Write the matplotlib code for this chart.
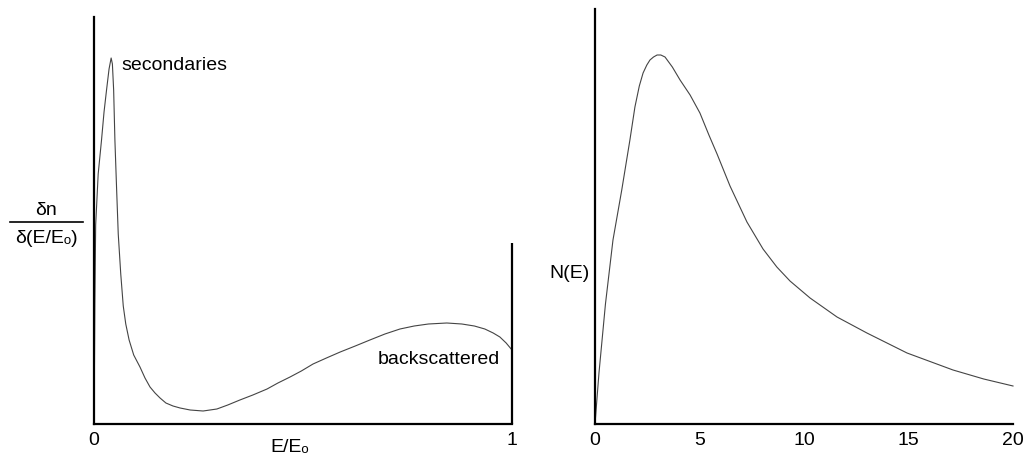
import matplotlib.pyplot as plt
from matplotlib.lines import Line2D

plt.rcParams["font.family"] = ["Liberation Sans", "DejaVu Sans"]
plt.rcParams["font.size"] = 14

# left panel: electron energy distribution vs E/E0
left_x = [0.0, 0.0007, 0.002, 0.004, 0.010, 0.018, 0.024, 0.030, 0.036, 0.041,
          0.044, 0.047, 0.050, 0.054, 0.058, 0.064, 0.070, 0.076, 0.084, 0.095,
          0.110, 0.122, 0.134, 0.146, 0.158, 0.172, 0.189, 0.206, 0.230, 0.261,
          0.294, 0.320, 0.349, 0.380, 0.414, 0.440, 0.469, 0.496, 0.524, 0.556,
          0.589, 0.625, 0.660, 0.696, 0.732, 0.766, 0.800, 0.844, 0.880, 0.910,
          0.935, 0.955, 0.971, 0.986, 1.0]
left_y = [0, 34, 120, 199, 250, 284, 312, 334, 355, 366,
          360, 334, 284, 236, 190, 150, 118, 100, 84, 69,
          57, 46, 37, 31, 26, 21, 18, 16, 14, 13,
          15, 19, 24, 29, 35, 41, 47, 53, 60, 66,
          72, 78, 84, 90, 95, 98, 100, 101, 100, 98,
          95, 91, 87, 81, 74]
left_ticks = [0, 1]
left_ytop = 407
edge_height = 181

# right panel: secondary electron distribution N(E)
right_x = [0.0, 0.19, 0.50, 0.86, 1.28, 1.67, 1.91, 2.12, 2.30, 2.48, 2.63, 2.80,
           2.97, 3.15, 3.35, 3.70, 4.07, 4.55, 5.02, 5.45, 5.84, 6.46, 7.27,
           8.04, 8.70, 9.33, 10.29, 11.58, 13.01, 14.93, 17.13, 18.60, 20.0]
right_y = [0, 51, 120, 184, 234, 284, 317, 338, 351, 359, 364, 367,
           369, 369, 367, 357, 344, 329, 311, 289, 270, 238, 202,
           175, 157, 143, 126, 107, 91, 71, 54, 45, 38]
right_ticks = [0, 5, 10, 15, 20]
right_ytop = 415

fig = plt.figure(figsize=(10.3, 4.61), dpi=100)
ax1 = fig.add_axes([94 / 1030, 37 / 461, 418 / 1030, 407 / 461])
ax2 = fig.add_axes([595 / 1030, 37 / 461, 418 / 1030, 415 / 461])

for ax in (ax1, ax2):
    for s in ("top", "right"):
        ax.spines[s].set_visible(False)
    for s in ("left", "bottom"):
        ax.spines[s].set_linewidth(1.6)
        ax.spines[s].set_color("black")
    ax.set_yticks([])
    ax.tick_params(axis="x", length=0, pad=6, labelsize=14)

ax1.plot(left_x, left_y, color="#444444", lw=0.8, clip_on=False)
ax1.vlines(1.0, 0, edge_height, color="black", lw=1.6, clip_on=False)
ax1.set_xlim(0, 1)
ax1.set_ylim(0, left_ytop)
ax1.set_xticks(left_ticks)
ax1.text(0.0646, 359, "secondaries", ha="left", va="center", fontsize=14)
ax1.text(0.679, 64, "backscattered", ha="left", va="center", fontsize=14)

ax2.plot(right_x, right_y, color="#444444", lw=0.8, clip_on=False)
ax2.set_xlim(0, 20)
ax2.set_ylim(0, right_ytop)
ax2.set_xticks(right_ticks)

# axis labels placed by hand like the original drawing
fig.text(290 / 1030, 1 - 447 / 461, "E/E\u2092", ha="center", va="center", fontsize=14)
fig.text(46 / 1030, 1 - 210 / 461, "δn", ha="center", va="center", fontsize=14)
fig.add_artist(Line2D([10 / 1030, 83 / 1030], [1 - 222 / 461, 1 - 222 / 461],
                      color="black", lw=1.2))
fig.text(46 / 1030, 1 - 238 / 461, "δ(E/E\u2092)", ha="center", va="center", fontsize=14)
fig.text(590 / 1030, 1 - 273 / 461, "N(E)", ha="right", va="center", fontsize=14)

fig.savefig("out.png", dpi=100)
